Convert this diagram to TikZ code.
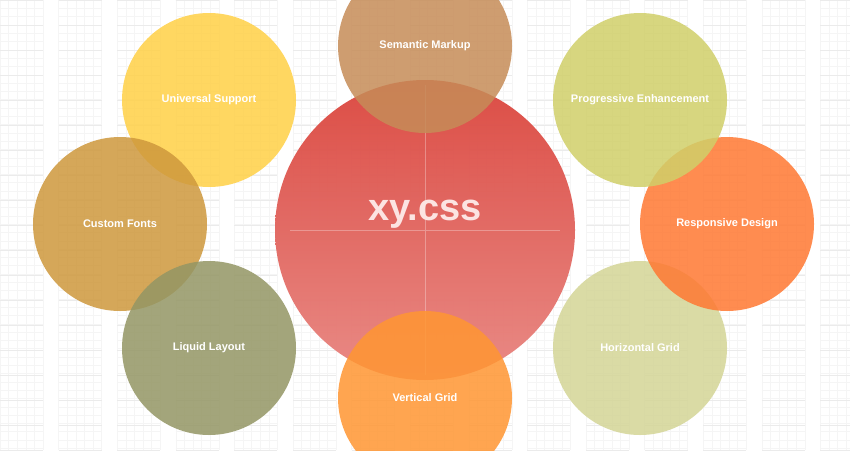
\documentclass[tikz,border=0pt]{standalone}
\usepackage{fontspec}
\setmainfont{Liberation Sans}
\begin{document}
\begin{tikzpicture}[x=1pt,y=-1pt,
  bub/.style={circle,minimum size=174pt,inner sep=0pt,fill opacity=0.85,text opacity=1,text=white,font=\bfseries\fontsize{11}{13}\selectfont}]
\useasboundingbox (0,0) rectangle (850,450);
\fill[white] (0,0) rectangle (850,450);
% grid columns
\foreach \c in {0,...,14}{
  \pgfmathsetmacro\xa{\c*58.6}
  \pgfmathsetmacro\xb{\xa+43}
  \foreach \k in {0,...,5}{\draw[black!4,line width=0.4pt] ({\xa+\k*8.6},0) -- ({\xa+\k*8.6},450);}
  \foreach \j in {0,...,56}{\draw[black!4,line width=0.4pt] (\xa,{\j*8.3}) -- (\xb,{\j*8.3});}
  \foreach \j in {0,...,18}{\draw[black!8,line width=0.5pt] (\xa,{\j*25}) -- (\xb,{\j*25});}
}
\clip (0,0) rectangle (850,450);
\shade[top color={rgb,255:red,219;green,72;blue,64},bottom color={rgb,255:red,233;green,135;blue,130},opacity=0.97] (425,230) circle[radius=150];
\node[circle,minimum size=300pt] (hub) at (425,230) {};
\draw[white,opacity=0.3,line width=0.7pt] (290,230) -- (560,230) (425,85) -- (425,375);
\node[text={rgb,255:red,252;green,228;blue,226},font=\bfseries\fontsize{38}{44}\selectfont] (t) at (425,214) {xy.css};
\node[bub,fill={rgb,255:red,198;green,140;blue,88}] (sm) at (425,46) {\raisebox{-2pt}{Semantic Markup}};
\node[bub,fill={rgb,255:red,255;green,208;blue,70}] (us) at (209,100) {Universal Support};
\node[bub,fill={rgb,255:red,206;green,152;blue,60}] (cf) at (120,224) {Custom Fonts};
\node[bub,fill={rgb,255:red,148;green,150;blue,100}] (ll) at (209,348) {Liquid Layout};
\node[bub,fill={rgb,255:red,255;green,150;blue,50}] (vg) at (425,398) {Vertical Grid};
\node[bub,fill={rgb,255:red,212;green,213;blue,150}] (hg) at (640,348) {Horizontal Grid};
\node[bub,fill={rgb,255:red,255;green,120;blue,50}] (rd) at (727,224) {Responsive Design};
\node[bub,fill={rgb,255:red,208;green,207;blue,105}] (pe) at (640,100) {Progressive Enhancement};
\end{tikzpicture}
\end{document}
